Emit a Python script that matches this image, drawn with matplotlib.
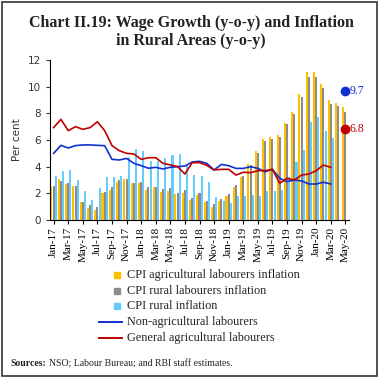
import matplotlib.pyplot as plt
from matplotlib.lines import Line2D
from matplotlib.patches import Rectangle
import numpy as np

# month labels (Jan-17 .. May-20)
months = ['Jan-17', 'Feb-17', 'Mar-17', 'Apr-17', 'May-17', 'Jun-17', 'Jul-17', 'Aug-17',
          'Sep-17', 'Oct-17', 'Nov-17', 'Dec-17', 'Jan-18', 'Feb-18', 'Mar-18', 'Apr-18',
          'May-18', 'Jun-18', 'Jul-18', 'Aug-18', 'Sep-18', 'Oct-18', 'Nov-18', 'Dec-18',
          'Jan-19', 'Feb-19', 'Mar-19', 'Apr-19', 'May-19', 'Jun-19', 'Jul-19', 'Aug-19',
          'Sep-19', 'Oct-19', 'Nov-19', 'Dec-19', 'Jan-20', 'Feb-20', 'Mar-20', 'Apr-20',
          'May-20']

# bars (per cent)
cpi_al = [2.45, 3.05, 2.7, 2.57, 1.35, 0.93, 0.75, 2.05, 2.25, 2.87,
          3.05, 2.8, 2.8, 2.25, 2.45, 2.1, 2.17, 1.95, 2.0, 1.5,
          1.88, 1.33, 1.0, 1.43, 1.83, 2.5, 3.2, 4.2, 5.2, 6.1,
          6.25, 6.4, 7.25, 8.13, 9.45, 11.1, 11.1, 10.2, 9.0, 8.8, 8.45]
cpi_rl = [2.55, 2.95, 2.8, 2.57, 1.35, 1.12, 0.95, 2.1, 2.45, 3.0,
          3.05, 2.8, 2.85, 2.5, 2.5, 2.3, 2.38, 2.0, 2.25, 1.63,
          2.0, 1.45, 1.2, 1.55, 1.93, 2.6, 3.3, 4.1, 5.0, 5.9,
          6.05, 6.25, 7.2, 7.95, 9.25, 10.75, 10.7, 9.9, 8.7, 8.55, 8.1]
cpi_rural = [3.3, 3.68, 3.75, 3.0, 2.2, 1.5, 2.4, 3.2, 3.2, 3.3,
             4.75, 5.3, 5.2, 4.4, 4.45, 4.67, 4.88, 4.95, 4.1, 3.4,
             3.3, 2.83, 1.75, 1.4, 1.25, 1.8, 1.8, 1.9, 1.8, 2.2,
             2.2, 2.25, 3.25, 4.33, 5.25, 7.38, 7.75, 6.68, 6.15, np.nan, np.nan]

# wage growth lines (Jan-17 .. Mar-20)
non_agri = [5.0, 5.6, 5.4, 5.58, 5.63, 5.63, 5.6, 5.57, 4.55, 4.5,
            4.62, 4.25, 4.08, 3.88, 3.95, 3.83, 3.95, 4.0, 4.05, 4.35,
            4.4, 4.25, 3.75, 4.17, 4.07, 3.87, 3.87, 4.0, 3.87, 3.62,
            3.8, 3.13, 2.88, 3.0, 2.93, 2.7, 2.7, 2.83, 2.7]
gen_agri = [6.93, 7.55, 6.7, 7.0, 6.8, 6.93, 7.37, 6.7, 5.58, 5.2,
            5.0, 4.95, 4.55, 4.67, 4.67, 4.25, 4.13, 4.0, 3.45, 4.3,
            4.3, 4.1, 3.75, 3.8, 3.8, 3.37, 3.58, 3.55, 3.7, 3.7,
            3.8, 2.75, 3.13, 3.0, 3.37, 3.45, 3.7, 4.12, 3.95]

# May-20 wage growth points
last_non_agri = 9.7
last_gen_agri = 6.8

orange = '#FFC000'
grey = '#8C8C8C'
sky = '#66CCFF'
blue = '#1030D0'
red = '#C00000'

serif = 'Liberation Serif'

fig = plt.figure(figsize=(3.82, 3.80), dpi=100)
W, H = 382, 380
ax = fig.add_axes([50 / W, 1 - 220 / H, 299 / W, 160 / H])

x = np.arange(len(months))
ax.bar(x - 0.3, cpi_al, 0.28, color=orange)
ax.bar(x, cpi_rl, 0.28, color=grey)
ax.bar(x + 0.3, cpi_rural, 0.28, color=sky)

xl = np.arange(len(non_agri))
ax.plot(xl, non_agri, color=blue, lw=1.2)
ax.plot(xl, gen_agri, color=red, lw=1.2)

# last observations
ax.plot(x[-1], last_non_agri, 'o', color=blue, ms=6, clip_on=False)
ax.plot(x[-1], last_gen_agri, 'o', color=red, ms=6, clip_on=False)
ax.text(x[-1] + 0.55, last_non_agri, str(last_non_agri), color=blue, va='center',
        fontsize=8.5, family=serif, clip_on=False)
ax.text(x[-1] + 0.55, last_gen_agri, str(last_gen_agri), color=red, va='center',
        fontsize=8.5, family=serif, clip_on=False)

ax.set_xlim(-0.5, len(months) - 0.5)
ax.set_ylim(0, 12)
ax.set_yticks(range(0, 13, 2))
ax.tick_params(axis='y', labelsize=7.5, colors='#333333', length=3, width=0.8)
ax.set_xticks(x[::2])
ax.set_xticklabels(months[::2], rotation=90, fontsize=8, family=serif)
ax.tick_params(axis='x', length=3, width=0.8, pad=2)
for s in ['top', 'right']:
    ax.spines[s].set_visible(False)
for s in ['left', 'bottom']:
    ax.spines[s].set_linewidth(0.8)
ax.set_ylabel('Per cent', fontsize=7.5, color='#333333')
ax.yaxis.set_label_coords(-0.095, 0.5)

# title
fig.text(0.5, 1 - 27 / H, 'Chart II.19: Wage Growth (y-o-y) and Inflation', ha='center',
         va='baseline', fontsize=11.5, fontweight='bold', family=serif, color='#222222')
fig.text(0.5, 1 - 45 / H, 'in Rural Areas (y-o-y)', ha='center',
         va='baseline', fontsize=11.5, fontweight='bold', family=serif, color='#222222')

# legend, drawn by hand
entries = [('s', orange, 'CPI agricultural labourers inflation'),
           ('s', grey, 'CPI rural labourers inflation'),
           ('s', sky, 'CPI rural inflation'),
           ('-', blue, 'Non-agricultural labourers'),
           ('-', red, 'General agricultural labourers')]
rows = [275, 290.5, 306, 322, 338]
for (kind, col, lab), yp in zip(entries, rows):
    yf = 1 - yp / H
    if kind == 's':
        fig.add_artist(Line2D([117 / W], [yf], marker='s', ms=4.5, color=col, ls='none',
                              transform=fig.transFigure))
    else:
        fig.add_artist(Line2D([99 / W, 122 / W], [yf, yf], color=col, lw=1.4,
                              transform=fig.transFigure))
    fig.text(127 / W, yf, lab, va='center', fontsize=8.8, family=serif, color='#222222')

# source note
src = fig.text(10 / W, 1 - 364 / H, 'Sources:', va='center', fontsize=7, family=serif,
               fontweight='bold', color='#222222')
r = fig.canvas.get_renderer()
x_end = src.get_window_extent(r).x1 / W
fig.text(x_end + 3 / W, 1 - 364 / H, 'NSO; Labour Bureau; and RBI staff estimates.',
         va='center', fontsize=7, family=serif, color='#222222')

# outer frame
fig.add_artist(Rectangle((1.5 / W, 1 - 376 / H), 375 / W, 374.5 / H, fill=False,
                         lw=1.2, ec='#333333', transform=fig.transFigure))

fig.savefig('out.png', dpi=100)
